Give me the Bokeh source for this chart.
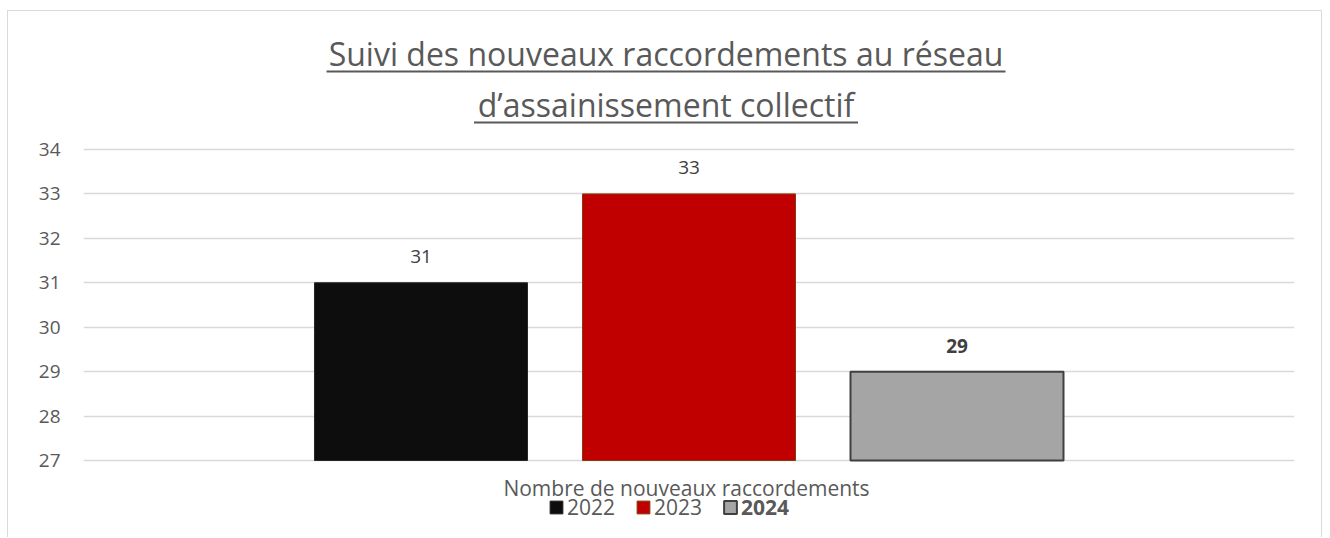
from bokeh.plotting import figure
from bokeh.models import (ColumnDataSource, FactorRange, Range1d, FixedTicker, Label,
                          BoxAnnotation, Legend, LegendItem)
from bokeh.core.properties import value
from bokeh.embed import file_html
from bokeh.resources import INLINE

# ---- data ----
title_lines = ["Suivi des nouveaux raccordements au réseau", "d’assainissement collectif"]
category = "Nombre de nouveaux raccordements"
years = ["2022", "2023", "2024"]
values = [31, 33, 29]
y_ticks = [27, 28, 29, 30, 31, 32, 33, 34]

# ---- styles ----
fills = ["#0d0d0d", "#c00000", "#a5a5a5"]
edges = ["#262626", "#843c0c", "#404040"]
edge_widths = [1, 1, 2]
label_styles = ["normal", "normal", "bold"]
FONT = "Open Sans"
GREY = "#595959"

W, H = 1315, 527
p = figure(width=W, height=H, output_backend="svg", toolbar_location=None,
           x_range=FactorRange(factors=years, factor_padding=55 / 213,
                               range_padding=1.0845, range_padding_units="absolute"),
           y_range=Range1d(25.244, 37.106),
           x_axis_location=None,
           min_border_left=75, min_border_right=29, min_border_top=0, min_border_bottom=0)
p.styles = {"border": "1px solid #d9d9d9", "border-bottom": "none",
            "margin-left": "7px", "margin-top": "10px"}
p.outline_line_color = None
p.xgrid.visible = False
p.ygrid.ticker = FixedTicker(ticks=y_ticks)
p.ygrid.grid_line_color = "#d9d9d9"
p.ygrid.grid_line_width = 1.5

ax = p.yaxis[0]
ax.ticker = FixedTicker(ticks=y_ticks)
ax.axis_line_color = None
ax.major_tick_line_color = None
ax.minor_tick_line_color = None
ax.major_label_text_font = FONT
ax.major_label_text_font_size = "19px"
ax.major_label_text_color = GREY
ax.major_label_standoff = 17

src = ColumnDataSource(dict(year=years, value=values, fill=fills, edge=edges, lw=edge_widths,
                            label=[str(v) for v in values], fstyle=label_styles))
r = p.vbar(x="year", top="value", bottom=27, width=1.0, source=src,
           fill_color="fill", line_color="edge", line_width="lw")

p.text(x="year", y="value", text="label", source=src, y_offset=-26,
       text_align="center", text_baseline="alphabetic", text_font=value(FONT),
       text_font_size="19px", text_color="#404040", text_font_style="fstyle")

# title (frame-relative screen units; frame spans full height)
cx = 582.5
for line, yb, ut, uw in zip(title_lines, [485, 434], [468, 417], [679, 384]):
    p.add_layout(Label(x=cx, y=yb, x_units="screen", y_units="screen", text=line,
                       text_align="center", text_baseline="alphabetic",
                       text_font=FONT, text_font_size="32px", text_color=GREY))
    p.add_layout(BoxAnnotation(left=cx - uw / 2, right=cx + uw / 2, top=ut, bottom=ut - 2,
                               left_units="screen", right_units="screen",
                               top_units="screen", bottom_units="screen",
                               fill_color=GREY, fill_alpha=1, line_color=None))

# category label
p.add_layout(Label(x=603, y=51, x_units="screen", y_units="screen", text=category,
                   text_align="center", text_baseline="alphabetic",
                   text_font=FONT, text_font_size="21px", text_color=GREY))

common = dict(orientation="horizontal", glyph_width=16, glyph_height=16, label_standoff=3,
              spacing=20, padding=0, margin=0, border_line_color=None,
              background_fill_alpha=0, label_text_font=FONT, label_text_font_size="21px",
              label_text_color=GREY, label_height=20)
legA = Legend(items=[LegendItem(label=years[0], renderers=[r], index=0),
                     LegendItem(label=years[1], renderers=[r], index=1)],
              location=(465, 17), **common)
legB = Legend(items=[LegendItem(label=years[2], renderers=[r], index=2)],
              location=(639, 17), label_text_font_style="bold", **common)
p.add_layout(legA)
p.add_layout(legB)

open("out.html", "w").write(file_html(p, INLINE))
